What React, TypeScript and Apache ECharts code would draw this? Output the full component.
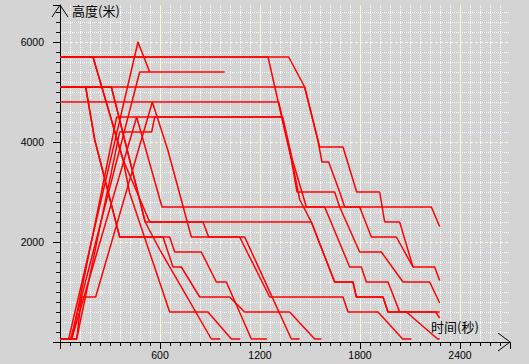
import React, { useEffect, useRef } from "react";
import * as echarts from "echarts";

// ---- axis extents / tick settings (seconds, metres) ----
const X_MIN = 0;
const X_MAX = 2700;
const X_INTERVAL = 600;
const Y_MIN = 0;
const Y_MAX = 6740;
const Y_INTERVAL = 2000;
const X_NAME = "时间(秒)";
const Y_NAME = "高度(米)";

// ---- flight profiles: [time (s), altitude (m)] ----
// departures (climb from the ground)
const D1 = [[0, 60], [52, 60], [468, 6000], [538, 5400], [988, 5400]];
const D2 = [[0, 60], [64, 60], [478, 5400], [538, 5400]];
const D3 = [[0, 60], [70, 60], [340, 4500], [1336, 4500], [1394, 3650], [1478, 2700], [1588, 2700], [1738, 1500], [1808, 1500], [1838, 1200], [1968, 1200], [2038, 600], [2254, 600], [2278, 480]];
const D4 = [[0, 60], [100, 60], [358, 4200], [550, 4200], [568, 4500], [1336, 4500]];
const D5 = [[0, 60], [100, 60], [130, 900], [214, 900], [554, 4800], [646, 3850], [788, 2100], [1078, 2100], [1258, 900], [1698, 900], [1728, 600], [1908, 600], [2056, 60], [2108, 60]];
const D6 = [[0, 60], [70, 60], [460, 4500], [612, 2700], [2228, 2700], [2278, 2310]];
// arrivals (already airborne at t = 0)
const A1 = [[0, 5700], [198, 5700], [378, 3650], [418, 2980], [658, 600], [888, 600], [1028, 60], [1082, 60]];
const A2 = [[0, 5100], [154, 5100], [208, 4050], [358, 2100], [658, 2100], [688, 1800], [848, 1800], [938, 1200], [998, 1200], [1148, 60], [1242, 60]];
const A3 = [[0, 5700], [1248, 5700], [1388, 3650], [1422, 3000], [1648, 3000], [1678, 2700], [1798, 1800], [1928, 1800], [2058, 1200], [2218, 1200], [2278, 780]];
const A4 = [[0, 5700], [1372, 5700], [1468, 5100], [1558, 3900], [1698, 3900], [1780, 3000], [1918, 3000], [1948, 2400], [2038, 2400], [2118, 1500], [2248, 1500], [2278, 1230]];
const A5 = [[0, 5100], [1468, 5100], [1546, 4050], [1572, 3600], [1612, 3600], [1678, 3000], [1708, 2700], [1798, 2700], [1868, 2100], [2018, 2100], [2118, 1500]];
const A6 = [[0, 4800], [1312, 4800], [1378, 3850], [1438, 2850], [1508, 2400], [1648, 1200], [1758, 1200], [1778, 900], [1938, 900], [1968, 600], [2078, 600], [2266, 60], [2278, 60]];
const A7 = [[0, 5700], [198, 5700], [378, 3650], [538, 2400], [1508, 2400], [1648, 1200], [1758, 1200], [1778, 900], [1938, 900], [1968, 600], [2278, 600]];
const B1 = [[0, 5100], [308, 5100], [398, 3910], [511, 2400], [858, 2400], [892, 2100], [1108, 2100], [1388, 60], [1438, 60]];
const C1 = [[0, 5100], [308, 5100], [398, 3910], [511, 2400], [598, 1850], [908, 60], [962, 60]];
const E1 = [[0, 5100], [154, 5100], [208, 4050], [358, 2100], [618, 2100], [678, 1500], [728, 1500], [838, 900], [1018, 900], [1108, 600], [1378, 600], [1528, 60], [1568, 60]];

const FLIGHTS = [D1, D2, D3, D4, D5, D6, A1, A2, A3, A4, A5, A6, A7, B1, C1, E1];

export default function App() {
  const ref = useRef<HTMLDivElement>(null);

  useEffect(() => {
    if (!ref.current) return;
    const chart = echarts.init(ref.current, null, { renderer: "svg" });
    const labelFont = { fontFamily: "Liberation Sans", fontSize: 10.5, color: "#000", formatter: (v: number) => String(v) };
    chart.setOption({
      animation: false,
      backgroundColor: "#d4d4d4",
      grid: { left: 60, right: 19, top: 5, bottom: 22, containLabel: false },
      xAxis: {
        type: "value",
        min: X_MIN,
        max: X_MAX,
        interval: X_INTERVAL,
        axisLine: { show: true, onZero: false, lineStyle: { color: "#000", width: 1 } },
        axisTick: { show: true, inside: false, length: 7, lineStyle: { color: "#000" } },
        minorTick: { show: true, splitNumber: 10, length: 4, lineStyle: { color: "#000" } },
        axisLabel: { ...labelFont, margin: 7, showMinLabel: false, showMaxLabel: false },
        splitLine: { show: true, showMinLine: false, showMaxLine: false, lineStyle: { color: "#fff8e0", width: 1, type: "solid" } },
        minorSplitLine: { show: true, lineStyle: { color: "#ffffff", width: 1, type: [1, 1] } },
      },
      yAxis: {
        type: "value",
        min: Y_MIN,
        max: Y_MAX,
        interval: Y_INTERVAL,
        axisLine: { show: true, onZero: false, lineStyle: { color: "#000", width: 1 } },
        axisTick: { show: true, inside: false, length: 7, lineStyle: { color: "#000" } },
        minorTick: { show: true, splitNumber: 10, length: 4, lineStyle: { color: "#000" } },
        axisLabel: { ...labelFont, margin: 16, showMinLabel: false, showMaxLabel: false },
        splitLine: { show: true, showMinLine: false, showMaxLine: false, lineStyle: { color: "#fff8e0", width: 1, type: [3, 2] } },
        minorSplitLine: { show: true, lineStyle: { color: "#ffffff", width: 1, type: [1, 1] } },
      },
      graphic: [
        { type: "polyline", shape: { points: [[52, 17], [60, 5], [68, 17]] }, style: { stroke: "#000", fill: "none", lineWidth: 1 }, z: 100 },
        { type: "polyline", shape: { points: [[498, 333], [510, 342], [498, 351]] }, style: { stroke: "#000", fill: "none", lineWidth: 1 }, z: 100 },
        { type: "text", left: 72, top: 4, style: { text: Y_NAME, fontFamily: "Noto Sans CJK SC", fontSize: 13, fill: "#000" }, z: 100 },
        { type: "text", left: 431, top: 320, style: { text: X_NAME, fontFamily: "Noto Sans CJK SC", fontSize: 13, fill: "#000" }, z: 100 },
      ],
      series: FLIGHTS.map((f, i) => ({
        type: "line",
        name: "flight" + i,
        data: f,
        showSymbol: false,
        symbol: "none",
        silent: true,
        lineStyle: { color: "#ff0000", width: 1.5 },
        z: 3,
      })),
    });
    return () => chart.dispose();
  }, []);

  return <div ref={ref} style={{ position: "fixed", left: 0, top: 0, width: 529, height: 364 }} />;
}
